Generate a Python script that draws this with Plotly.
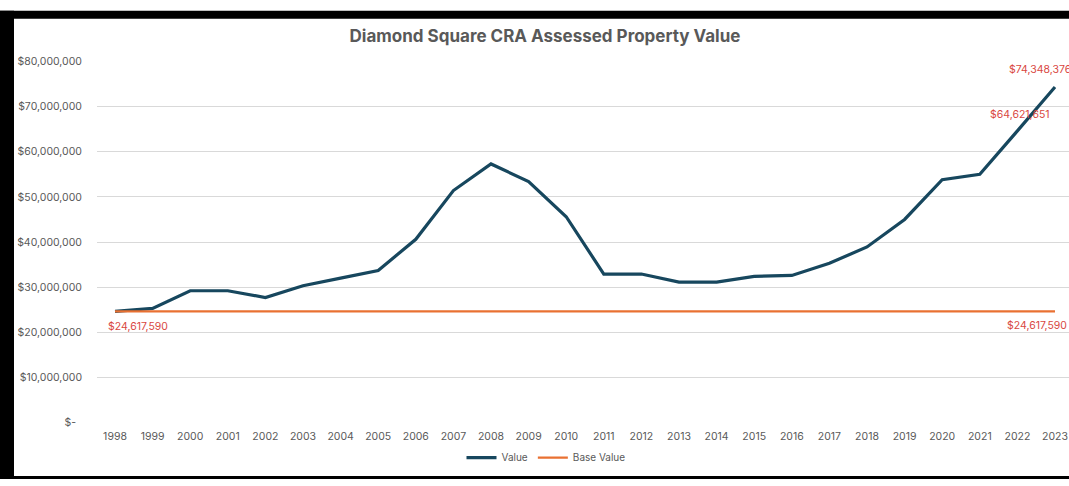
import plotly.graph_objects as go

years = list(range(1998, 2024))
value = [24617590, 25300000, 29200000, 29200000, 27700000, 30300000, 32000000, 33700000,
         40600000, 51400000, 57300000, 53400000, 45600000, 32900000, 32900000, 31100000,
         31100000, 32400000, 32600000, 35300000, 38900000, 45000000, 53800000, 55000000,
         64621651, 74348376]
base_value = [24617590] * len(years)
y_ticks = [0, 10000000, 20000000, 30000000, 40000000, 50000000, 60000000, 70000000, 80000000]
y_tick_text = ["$-  ", "$10,000,000", "$20,000,000", "$30,000,000", "$40,000,000",
               "$50,000,000", "$60,000,000", "$70,000,000", "$80,000,000"]

W, H = 1069, 486
FONT = "Inter, Open Sans, Arial, sans-serif"
GRAY = "#595959"
LABEL_RED = "#d9473f"

fig = go.Figure()
fig.add_trace(go.Scatter(x=years, y=value, name="Value", mode="lines",
                         line=dict(color="#17475e", width=3.2)))
fig.add_trace(go.Scatter(x=years, y=base_value, name="Base Value", mode="lines",
                         line=dict(color="#e97132", width=2.2)))

def fmt(v):
    return "${:,.0f}".format(v)

ann_font = dict(family=FONT, size=10.5, color=LABEL_RED)
annotations = [
    dict(x=years[0], y=base_value[0], text=fmt(base_value[0]), xanchor="left", yanchor="top",
         xshift=-9, yshift=-7, showarrow=False, font=ann_font),
    dict(x=years[-1], y=base_value[-1], text=fmt(base_value[-1]), xanchor="right", yanchor="top",
         xshift=14, yshift=-6, showarrow=False, font=ann_font),
    dict(x=years[-1], y=value[-1], text=fmt(value[-1]), xanchor="center", yanchor="bottom",
         xshift=-15, yshift=9, showarrow=False, font=ann_font),
    dict(x=years[-2], y=value[-2], text=fmt(value[-2]), xanchor="center", yanchor="bottom",
         xshift=3, yshift=8, showarrow=False, font=ann_font),
]

x0 = 1998 - 18 / 37.6
x1 = 1998 + (W - 115) / 37.6

shapes = [
    dict(type="rect", xref="paper", yref="paper", x0=0, x1=1, y0=1 - 13 / H, y1=1 - 5 / H,
         fillcolor="black", line=dict(width=0), layer="above"),
    dict(type="rect", xref="paper", yref="paper", x0=0, x1=14 / W, y0=0, y1=1 - 5 / H,
         fillcolor="black", line=dict(width=0), layer="above"),
    dict(type="rect", xref="paper", yref="paper", x0=0, x1=1, y0=0, y1=3 / H,
         fillcolor="black", line=dict(width=0), layer="above"),
]

fig.update_layout(
    width=W, height=H,
    margin=dict(l=0, r=0, t=0, b=0),
    paper_bgcolor="white", plot_bgcolor="white",
    title=dict(text="<b>Diamond Square CRA Assessed Property Value</b>",
               x=545 / W, xanchor="center", y=1 - 36 / H, yanchor="middle",
               font=dict(family=FONT, size=17, color=GRAY)),
    xaxis=dict(domain=[97 / W, 1], range=[x0, x1], tickmode="array", tickvals=years,
               ticktext=[str(y) for y in years], showgrid=False, zeroline=False,
               showline=False, ticks="", ticklabelstandoff=6,
               tickfont=dict(family=FONT, size=10.5, color=GRAY)),
    yaxis=dict(domain=[(H - 428) / H, (H - 57) / H], range=[0, 80000000],
               tickmode="array", tickvals=y_ticks, ticktext=y_tick_text,
               showgrid=True, gridcolor="#d9d9d9", gridwidth=1, zeroline=False,
               showline=False, ticks="", ticklabelstandoff=14,
               tickfont=dict(family=FONT, size=10.5, color=GRAY)),
    legend=dict(orientation="h", x=546 / W, xanchor="center", y=(H - 464) / H,
                yanchor="middle", font=dict(family=FONT, size=10, color=GRAY),
                bgcolor="rgba(0,0,0,0)"),
    showlegend=True,
    annotations=annotations,
    shapes=shapes,
)

fig.write_html(
    "out.html",
    config={"displayModeBar": False},
    post_script="document.body.style.margin='0';document.body.style.overflow='hidden';"
                "document.documentElement.style.overflow='hidden';",
)
